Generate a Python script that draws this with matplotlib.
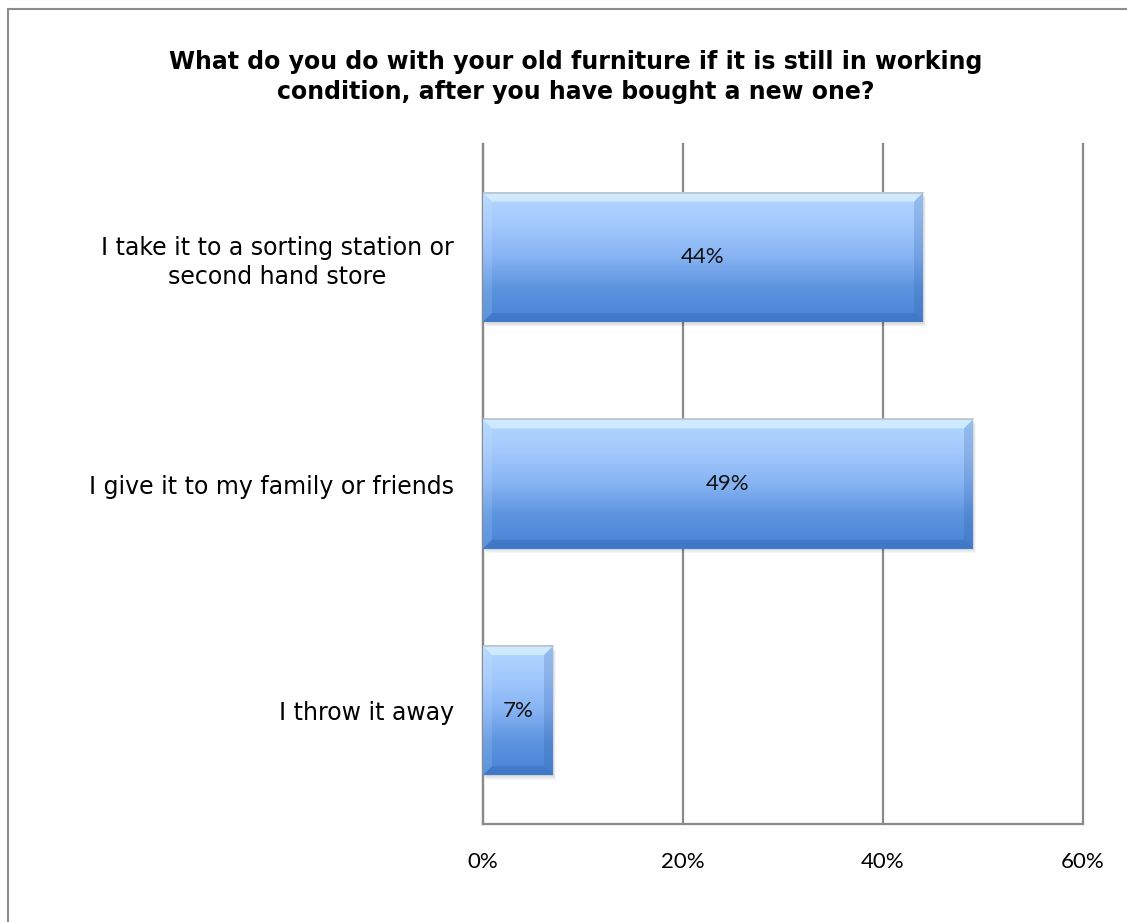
import matplotlib.pyplot as plt
import numpy as np
from matplotlib.colors import LinearSegmentedColormap
from matplotlib.patches import Polygon, Rectangle

categories = [
    "I take it to a sorting station or\nsecond hand store",
    "I give it to my family or friends",
    "I throw it away",
]
shares = [44, 49, 7]
x_ticks = [0, 20, 40, 60]
title = ("What do you do with your old furniture if it is still in working\n"
         "condition, after you have bought a new one?")

W, H = 1127, 922
fig = plt.figure(figsize=(W / 100, H / 100), dpi=100)
ax = fig.add_axes([483 / W, 98 / H, 600 / W, 680 / H])

bar_h = 0.57
ypos = np.arange(len(categories))
grad = LinearSegmentedColormap.from_list(
    "bar", ["#b4d8ff", "#a3c9fd", "#86b3f3", "#5b93de", "#4884d6"])
g = np.linspace(0, 1, 256).reshape(-1, 1)

# pixel -> data steps for bevels and shadows
px_x = 60 / 600
px_y = 3 / 680

for y, v in zip(ypos, shares):
    top = y - bar_h / 2
    bot = y + bar_h / 2
    # soft drop shadow
    for k in range(1, 6):
        ax.add_patch(Rectangle((k * 0.6 * px_x, top + k * 0.9 * px_y), v, bar_h,
                               facecolor="#000000", alpha=0.03, lw=0, zorder=2))
    ax.imshow(g, cmap=grad, aspect="auto", extent=(0, v, bot, top),
              origin="upper", zorder=3, interpolation="bilinear")
    bx = 9 * px_x
    by = 9 * px_y
    bevels = [
        ([(0, top), (v, top), (v - bx, top + by), (bx, top + by)], "#e8fcff", 0.55),
        ([(v, top), (v, bot), (v - bx, bot - by), (v - bx, top + by)], "#2e5fa6", 0.22),
        ([(0, bot), (v, bot), (v - bx, bot - by), (bx, bot - by)], "#24559e", 0.25),
        ([(0, top), (0, bot), (bx, bot - by), (bx, top + by)], "#d6eeff", 0.15),
    ]
    for pts, col, a in bevels:
        ax.add_patch(Polygon(pts, closed=True, facecolor=col, alpha=a, lw=0, zorder=4))
    ax.plot([0, v], [top, top], color="#b9c3cf", lw=1.2, zorder=5)
    ax.text(v / 2, y, f"{v}%", ha="center", va="center", fontsize=16,
            family="Lato", color="#111111", zorder=6)

ax.set_xlim(0, 60)
ax.set_ylim(len(categories) - 0.5, -0.5)
ax.set_xticks(x_ticks)
ax.set_xticklabels([f"{t}%" for t in x_ticks], family="Lato", fontsize=16)
ax.set_yticks(ypos)
ax.set_yticklabels(categories, fontsize=17, family="DejaVu Sans",
                   multialignment="center", linespacing=1.25)
ax.tick_params(axis="both", length=0)
ax.tick_params(axis="x", pad=20)
ax.tick_params(axis="y", pad=21)
ax.grid(axis="x", color="#8a8a8a", lw=1.6, zorder=0)
for gl in ax.get_xgridlines():
    gl.set_clip_on(False)
ax.set_axisbelow(True)
for side in ("top", "right"):
    ax.spines[side].set_visible(False)
for side in ("left", "bottom"):
    ax.spines[side].set_color("#8a8a8a")
    ax.spines[side].set_linewidth(1.6)

fig.text(576 / W, 1 - 77 / H, title, ha="center", va="center", fontsize=17,
         fontweight="bold", family="DejaVu Sans", linespacing=1.35)

# chart frame running off the right and bottom edges
fig.patches.append(Rectangle((8 / W, -0.1), 1.2, (H - 9) / H + 0.1,
                             transform=fig.transFigure, fill=False,
                             edgecolor="#8c8c8c", lw=1.5))

fig.savefig("out.png", dpi=100)
